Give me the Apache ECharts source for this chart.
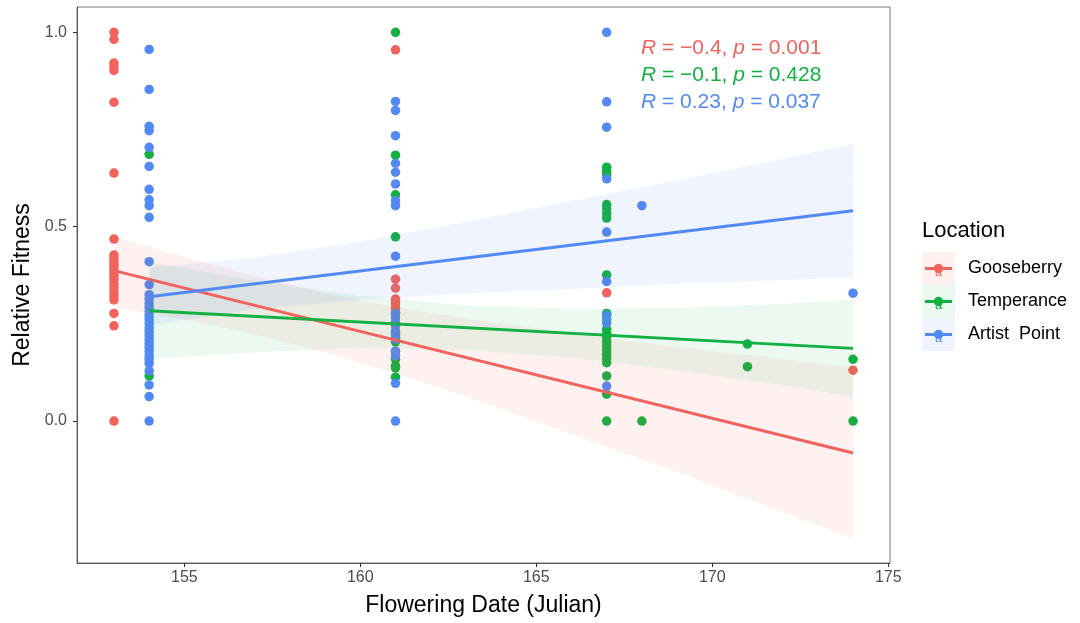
<!DOCTYPE html>
<html>
<head>
<meta charset="utf-8">
<title>Relative Fitness vs Flowering Date</title>
<script src="https://cdn.jsdelivr.net/npm/echarts@6/dist/echarts.min.js"></script>
<style>
  html, body { margin: 0; padding: 0; background: #fff; }
  #main { width: 1080px; height: 623px; }
</style>
</head>
<body>
<div id="main"></div>
<script>
// colours of the three locations
let colors = ['#F2635E', '#12B040', '#5289F5'];
let bandColors = ['rgba(242,99,94,0.09)', 'rgba(18,176,64,0.08)', 'rgba(82,137,245,0.09)'];
let locations = ['Gooseberry', 'Temperance', 'Artist  Point'];

// points, grouped by flowering date
let gooseberryDates = [153, 161, 167, 174];
let gooseberryFitness = [
    [1.0, 0.982, 0.921, 0.912, 0.902, 0.820, 0.638, 0.468, 0.427, 0.418, 0.410, 0.401, 0.392, 0.384,
     0.375, 0.365, 0.354, 0.343, 0.332, 0.322, 0.312, 0.277, 0.245, 0.0],
    [0.955, 0.365, 0.342, 0.314, 0.307, 0.301, 0.290, 0.280, 0.245, 0.215],
    [0.330],
    [0.131]
];

let temperanceDates = [154, 161, 167, 168, 171, 174];
let temperanceFitness = [
    [0.686, 0.116],
    [1.0, 0.684, 0.582, 0.474, 0.253, 0.228, 0.204, 0.179, 0.159, 0.142, 0.137, 0.113],
    [0.653, 0.643, 0.634, 0.557, 0.546, 0.533, 0.522, 0.376, 0.277, 0.236, 0.225, 0.215, 0.204,
     0.193, 0.182, 0.172, 0.161, 0.150, 0.116, 0.069, 0.0],
    [0.0],
    [0.198, 0.140],
    [0.159, 0.0]
];

let artistDates = [154, 161, 167, 168, 174];
let artistFitness = [
    [0.956, 0.853, 0.758, 0.747, 0.704, 0.655, 0.596, 0.569, 0.554, 0.524, 0.410, 0.351, 0.325, 0.314,
     0.302, 0.292, 0.282, 0.271, 0.261, 0.251, 0.240, 0.230, 0.220, 0.210, 0.199, 0.189, 0.179, 0.168,
     0.158, 0.148, 0.129, 0.093, 0.063, 0.0],
    [0.822, 0.799, 0.734, 0.663, 0.640, 0.610, 0.567, 0.554, 0.424, 0.277, 0.266, 0.250, 0.232, 0.223,
     0.210, 0.180, 0.168, 0.097, 0.0],
    [1.0, 0.821, 0.756, 0.623, 0.486, 0.359, 0.272, 0.262, 0.252, 0.090],
    [0.554],
    [0.329]
];

// fitted lines (end points)
let gooseberryFitX = [153, 174];
let gooseberryFitY = [0.387, -0.082];
let temperanceFitX = [154, 174];
let temperanceFitY = [0.284, 0.187];
let artistFitX = [154, 174];
let artistFitY = [0.320, 0.541];

// confidence ribbons
let gooseberryBandX = [153, 155, 157, 159, 161, 163, 165, 167, 169, 171, 174];
let gooseberryBandLo = [0.292, 0.262, 0.223, 0.177, 0.123, 0.064, -0.001, -0.066, -0.130, -0.200, -0.302];
let gooseberryBandHi = [0.474, 0.422, 0.373, 0.329, 0.293, 0.264, 0.239, 0.214, 0.190, 0.170, 0.138];

let temperanceBandX = [154, 157, 160, 163, 166, 169, 172, 174];
let temperanceBandLo = [0.159, 0.177, 0.188, 0.182, 0.163, 0.131, 0.092, 0.062];
let temperanceBandHi = [0.409, 0.361, 0.322, 0.298, 0.289, 0.291, 0.302, 0.312];

let artistBandX = [154, 157, 160, 163, 166, 169, 172, 174];
let artistBandLo = [0.245, 0.288, 0.312, 0.328, 0.340, 0.353, 0.363, 0.369];
let artistBandHi = [0.395, 0.420, 0.462, 0.512, 0.566, 0.619, 0.674, 0.713];

// correlation labels
let corR = ['\u22120.4', '\u22120.1', '0.23'];
let corP = ['0.001', '0.428', '0.037'];

let xTicks = [155, 160, 165, 170, 175];
let yTicks = [0, 0.5, 1.0];

const FONT = 'Liberation Sans, Arial, sans-serif';

function toPoints(dates, fitness) {
    let out = [];
    dates.forEach((d, i) => {
        fitness[i].forEach(v => out.push([d, v]));
    });
    return out;
}

function bandSeries(name, xs, lo, hi, color) {
    return {
        type: 'custom',
        name: name + ' band',
        silent: true,
        clip: true,
        z: 3,
        data: xs.map((x, i) => [x, lo[i], hi[i]]),
        encode: { x: 0, y: [1, 2] },
        renderItem: function (params, api) {
            if (params.dataIndex !== 0) return;
            let pts = [];
            for (let i = 0; i < xs.length; i++) pts.push(api.coord([xs[i], hi[i]]));
            for (let i = xs.length - 1; i >= 0; i--) pts.push(api.coord([xs[i], lo[i]]));
            return { type: 'polygon', shape: { points: pts }, style: { fill: color } };
        }
    };
}

function fitSeries(name, xs, ys, color) {
    return {
        type: 'line',
        name: name + ' fit',
        data: xs.map((x, i) => [x, ys[i]]),
        showSymbol: false,
        silent: true,
        z: 4,
        lineStyle: { color: color, width: 3 }
    };
}

function pointSeries(name, pts, color) {
    return {
        type: 'scatter',
        name: name,
        data: pts,
        symbolSize: 9.5,
        z: 2,
        itemStyle: { color: color, opacity: 1 }
    };
}

let plot = echarts.init(document.querySelector('#main'));

let legendGraphics = [{
    type: 'text', x: 922, y: 231,
    style: { text: 'Location', font: '22px ' + FONT, fill: '#000', verticalAlign: 'middle' }
}];
locations.forEach((loc, i) => {
    let top = 252 + i * 33;
    legendGraphics.push({ type: 'rect', shape: { x: 922, y: top, width: 33, height: 33 }, style: { fill: bandColors[i] } });
    legendGraphics.push({ type: 'line', shape: { x1: 925, y1: top + 16.5, x2: 952, y2: top + 16.5 }, style: { stroke: colors[i], lineWidth: 3 } });
    legendGraphics.push({ type: 'circle', shape: { cx: 938.5, cy: top + 16.5, r: 4.7 }, style: { fill: colors[i] } });
    legendGraphics.push({ type: 'text', x: 938.5, y: top + 20, style: { text: 'a', font: '13px ' + FONT, fill: colors[i], align: 'center', verticalAlign: 'middle' } });
    legendGraphics.push({ type: 'text', x: 968, y: top + 16.5, style: { text: loc, font: '18px ' + FONT, fill: '#000', verticalAlign: 'middle' } });
});

let corGraphics = corR.map((r, i) => ({
    type: 'text',
    x: 641, y: 48 + i * 27,
    style: {
        text: '{i|R} = ' + r + ', {i|p} = ' + corP[i],
        font: '21px ' + FONT,
        fill: colors[i],
        verticalAlign: 'middle',
        rich: { i: { fontStyle: 'italic', fontSize: 21, fontFamily: FONT, fill: colors[i] } }
    }
}));

const option = {
    backgroundColor: '#fff',
    animation: false,
    grid: {
        left: 77, right: 190, top: 7, bottom: 60,
        show: true, borderColor: '#7a7a7a', borderWidth: 1
    },
    xAxis: {
        type: 'value',
        min: 151.95,
        max: 175.05,
        name: 'Flowering Date (Julian)',
        nameLocation: 'middle',
        nameGap: 31,
        nameTextStyle: { fontFamily: FONT, fontSize: 23, color: '#000' },
        axisLine: { show: true, onZero: false, lineStyle: { color: '#555', width: 1 } },
        axisTick: { show: true, length: 4, customValues: xTicks, lineStyle: { color: '#333' } },
        axisLabel: { customValues: xTicks, margin: 7, fontFamily: FONT, fontSize: 16, color: '#4d4d4d' },
        splitLine: { show: false }
    },
    yAxis: {
        type: 'value',
        min: -0.365,
        max: 1.065,
        name: 'Relative Fitness',
        nameLocation: 'middle',
        nameGap: 40,
        nameTextStyle: { fontFamily: FONT, fontSize: 23, color: '#000' },
        axisLine: { show: true, onZero: false, lineStyle: { color: '#555', width: 1 } },
        axisTick: { show: true, length: 4, customValues: yTicks, lineStyle: { color: '#333' } },
        axisLabel: {
            customValues: yTicks, margin: 10, fontFamily: FONT, fontSize: 16, color: '#4d4d4d',
            formatter: v => Number(v).toFixed(1)
        },
        splitLine: { show: false }
    },
    series: [
        pointSeries(locations[0], toPoints(gooseberryDates, gooseberryFitness), colors[0]),
        pointSeries(locations[1], toPoints(temperanceDates, temperanceFitness), colors[1]),
        pointSeries(locations[2], toPoints(artistDates, artistFitness), colors[2]),
        bandSeries(locations[0], gooseberryBandX, gooseberryBandLo, gooseberryBandHi, bandColors[0]),
        bandSeries(locations[1], temperanceBandX, temperanceBandLo, temperanceBandHi, bandColors[1]),
        bandSeries(locations[2], artistBandX, artistBandLo, artistBandHi, bandColors[2]),
        fitSeries(locations[0], gooseberryFitX, gooseberryFitY, colors[0]),
        fitSeries(locations[1], temperanceFitX, temperanceFitY, colors[1]),
        fitSeries(locations[2], artistFitX, artistFitY, colors[2])
    ],
    graphic: legendGraphics.concat(corGraphics)
};

plot.setOption(option);
</script>
</body>
</html>
